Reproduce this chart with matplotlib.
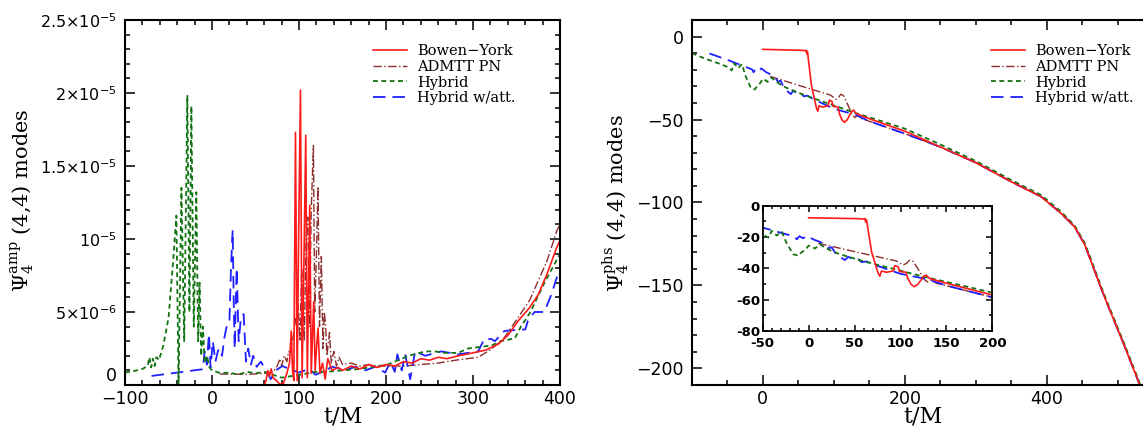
import numpy as np
import matplotlib
matplotlib.use("Agg")
import matplotlib.pyplot as plt
from matplotlib.ticker import MultipleLocator
from matplotlib.lines import Line2D

plt.rcParams["mathtext.fontset"] = "dejavusans"
plt.rcParams["lines.scale_dashes"] = False

# ── amplitude data (units of 1e-6) ───────────────────────────────────────────
by_t = [0, 60, 62, 64, 66, 68, 70, 74, 78, 82, 86, 89, 91, 92.5, 94, 95.9, 97.8,
        99.5, 101.6, 103.5, 105.5, 107.7, 109.5, 111, 112.3, 114, 116.8, 118.5,
        120, 121.8, 124, 127, 130, 133, 138, 145, 150, 160, 170, 180, 190, 200,
        210, 220, 230, 240, 250, 260, 270, 283, 300, 315, 329, 340, 352, 365,
        375, 385, 396, 400]
by_amp = [0, 0, 0.3, 1.0, 0.6, 1.1, 0.5, 0.3, 0.05, 0.1, 0.8, 1.5, 3.7, 1.0, 0.3,
          17.3, 0.3, 10.0, 20.2, 0.5, 8.0, 17.1, 0.5, 7.0, 12.3, 0.8, 5.7, 1.0,
          2.5, 3.9, 0.8, 1.5, 0.4, 1.8, 1.0, 1.2, 1.0, 1.3, 1.1, 1.4, 1.2, 1.4,
          1.3, 1.6, 1.5, 1.8, 1.7, 1.9, 1.8, 2.0, 2.2, 2.4, 2.8, 3.4, 4.4, 5.3,
          6.2, 7.6, 9.4, 9.9]

adm_t = [9, 20, 40, 60, 70, 75, 78, 80, 83, 86, 88, 90, 93, 96, 99, 101, 103,
         104.6, 106, 108, 110, 112, 114, 116.5, 118, 120, 121.8, 123.5, 125.6,
         127.5, 129, 130.6, 132, 135, 137, 140, 143, 146, 150, 160, 170, 180,
         190, 200, 220, 240, 260, 280, 305.8, 321, 336, 351.6, 365, 374.6, 385,
         396.5, 400]
adm_amp = [0.75, 0.75, 0.72, 0.8, 0.9, 1.3, 1.8, 1.3, 2.0, 1.6, 2.3, 2.2, 3.2,
           4.5, 5.5, 3.0, 8.0, 6.0, 3.0, 10.0, 11.5, 4.0, 12.0, 16.4, 5.0, 9.0,
           13.6, 4.0, 8.8, 2.5, 5.0, 4.1, 2.0, 3.6, 1.5, 2.3, 1.3, 1.9, 1.4, 1.5,
           1.3, 1.4, 1.3, 1.3, 1.3, 1.4, 1.5, 1.7, 1.9, 2.45, 3.25, 4.6, 5.8,
           7.1, 8.5, 10.6, 11.0]

hyb_t = [-100, -90, -80, -74, -72, -70, -68, -66, -64, -61, -56, -50, -44.7,
         -41, -38.5, -35.2, -32, -28.4, -26, -23.8, -21, -18.1, -16, -14.3,
         -12.5, -10.5, -8.5, -6, -3, 0, 10, 20, 30, 40, 50, 60, 70, 80, 90, 100,
         110, 120, 130, 150, 170, 190, 200, 226, 245, 256, 268, 283, 294, 321,
         332, 348, 355, 366, 382, 396.5, 400]
hyb_amp = [0.85, 0.95, 1.1, 1.3, 1.9, 1.2, 1.8, 1.3, 1.9, 1.7, 2.7, 4.6, 8.5,
           11.6, 0.0, 13.5, 3.0, 19.8, 5.0, 19.1, 4.0, 13.2, 3.0, 7.0, 2.0, 4.0,
           1.5, 2.0, 1.2, 1.0, 0.8, 0.85, 0.7, 0.9, 0.8, 0.9, 0.7, 0.5, 0.6, 0.7,
           0.8, 0.9, 0.9, 1.0, 1.1, 1.3, 1.35, 2.0, 2.3, 2.3, 2.2, 2.2, 2.5, 2.7,
           3.0, 3.2, 4.0, 5.0, 7.0, 8.6, 9.0]

att_t = [-69.5, -10.5, -8.6, -6, -3.6, -1.7, 0.9, 3.9, 6.6, 8.5, 11.5, 14.2,
         16.9, 19.9, 21.8, 23.7, 24.9, 26, 28.3, 30.6, 33.2, 36.3, 39, 41.6,
         44.7, 47.3, 51.2, 56.1, 61.8, 67.5, 73.2, 80.9, 88.5, 100, 111.4, 119,
         130.4, 138, 153.3, 164.7, 176.2, 187.6, 199, 205, 210, 213, 218, 222,
         227.7, 233.4, 245, 263.5, 283, 305.8, 313, 321, 325, 336, 355, 360,
         363, 370.6, 382, 390, 396.5, 400]
att_amp = [0.62, 1.08, 2.3, 1.4, 3.5, 1.2, 3.0, 1.6, 2.3, 2.5, 2.0, 3.25, 4.05,
           4.2, 8.06, 10.6, 5.7, 2.5, 8.0, 3.0, 4.6, 4.85, 1.6, 2.5, 1.4, 2.0,
           1.25, 1.6, 1.0, 0.4, 1.0, 1.3, 1.1, 0.85, 1.1, 0.7, 1.0, 1.25, 1.0,
           1.25, 1.0, 1.25, 0.85, 1.6, 0.9, 2.1, 1.0, 2.1, 0.4, 2.3, 2.0, 2.3,
           2.1, 2.3, 3.15, 3.15, 3.0, 3.7, 3.8, 3.8, 4.4, 5.0, 5.0, 6.2, 7.4, 7.6]

# ── phase data ───────────────────────────────────────────────────────────────
tail_t = [250, 300, 350, 392, 420, 439, 453, 462, 475, 486, 509, 531, 545]
tail_phs = [-66.5, -76, -87.5, -96.5, -106.5, -114.6, -125, -135, -150, -162,
            -186, -210, -224]

by_pt = [0, 55.8, 60, 61.5, 62, 63, 68.5, 75.7, 77.5, 79.3, 84.7, 91.9, 93.8,
         97.4, 99, 106, 107.9, 111.5, 115.1, 118.8, 122.4, 125, 127.9, 131.5,
         135, 150, 200] + tail_t
by_phs = [-7.7, -8.3, -8.6, -8.2, -10.5, -9, -29.4, -43.2, -45, -41.7, -42.5,
          -41.7, -38.3, -39, -42, -42.5, -46.4, -50.2, -51.7, -50.2, -47.4,
          -45.3, -44.3, -46.4, -47, -49.5, -57] + tail_phs

adm_pt = [10.4, 50, 95.6, 102.9, 106.5, 110, 113.8, 117.4, 122.8, 126.4, 130,
          133.7, 139, 150, 200] + tail_t
adm_phs = [-24, -29.3, -35.3, -37.9, -36.8, -34.7, -35.6, -38.8, -44, -47.4,
           -48.8, -47.4, -49.5, -51, -58.5] + tail_phs

hyb_pt = [-100, -80, -60, -50, -43.8, -40.2, -34.8, -29.3, -23.9, -16.7, -11.3,
          -7.7, -4, 0, 3.2, 6.8, 12.3, 19.5, 26.8, 34, 60, 100, 130, 160, 200,
          250, 300, 350, 392, 420, 439, 453, 462, 475, 486, 509, 531, 545]
hyb_phs = [-10, -13.5, -16.5, -18.3, -20.4, -16.1, -19.1, -16.6, -24.1, -31,
           -31.9, -29.8, -28.3, -25.5, -26.2, -27.3, -24.7, -27.3, -29.4, -31,
           -35.5, -41.5, -46, -50, -55.5, -65, -75, -86.5, -95.5, -105.5, -113.8,
           -124, -134, -149, -161, -185, -209, -223]

att_pt = [-75, -50, -15, -13, -10, -6, -2, 5, 12.3, 18, 21.4, 25, 30.4, 34, 39.5,
          43.1, 46.7, 50.3, 54, 57.6, 63, 70, 100, 130, 150, 200] + tail_t
att_phs = [-10.2, -14, -19.8, -21.5, -19.5, -20.8, -19.2, -21.5, -23.1, -25,
           -27.3, -26.5, -31.4, -32.7, -34.7, -32.6, -33.7, -34.7, -34.2, -36,
           -35.6, -37.4, -43.5, -47, -51, -58.5] + tail_phs

labels = ["Bowen\u2212York", "ADMTT PN", "Hybrid", "Hybrid w/att."]

STYLE = {
    "by":  dict(color="#ff1a1a", lw=1.2, linestyle="-"),
    "adm": dict(color="#8b2e2e", lw=1.0, dashes=(6, 1.8, 1, 1.8)),
    "hyb": dict(color="#137313", lw=1.3, dashes=(3.5, 2.5)),
    "att": dict(color="#1f1fff", lw=1.3, dashes=(9, 5)),
}
ORDER = ["by", "adm", "hyb", "att"]

amp = {"by": (by_t, by_amp), "adm": (adm_t, adm_amp),
       "hyb": (hyb_t, hyb_amp), "att": (att_t, att_amp)}
phs = {"by": (by_pt, by_phs), "adm": (adm_pt, adm_phs),
       "hyb": (hyb_pt, hyb_phs), "att": (att_pt, att_phs)}

fig = plt.figure(figsize=(11.43, 4.28), dpi=100)
axL = fig.add_axes([0.1094, 0.1005, 0.3806, 0.8528])
axR = fig.add_axes([0.6052, 0.1005, 0.4038, 0.8528])
axI = fig.add_axes([0.6673, 0.2266, 0.2009, 0.2928])

draw_order = ["adm", "att", "hyb", "by"]
for k in draw_order:
    t, a = amp[k]
    axL.plot(t, np.array(a) * 1e-6, **STYLE[k])
    t, p = phs[k]
    axR.plot(t, p, **STYLE[k])
    axI.plot(t, p, **STYLE[k])

def style_ticks(ax, major, minor, lw=1.5, size=12.5):
    for s in ax.spines.values():
        s.set_linewidth(lw)
    ax.tick_params(which="both", direction="in", top=True, right=True,
                   width=1.1, labelsize=size)
    ax.tick_params(which="major", length=major)
    ax.tick_params(which="minor", length=minor)

# ── left: amplitude ──
axL.set_xlim(-100, 400)
axL.set_ylim(0, 2.5e-5)
axL.set_xticks([-100, 0, 100, 200, 300, 400])
axL.xaxis.set_minor_locator(MultipleLocator(20))
axL.set_yticks([0, 5e-6, 1e-5, 1.5e-5, 2e-5, 2.5e-5],
               labels=["0", r"$5{\times}10^{-6}$", r"$10^{-5}$",
                       r"$1.5{\times}10^{-5}$", r"$2{\times}10^{-5}$",
                       r"$2.5{\times}10^{-5}$"])
axL.yaxis.set_minor_locator(MultipleLocator(1e-6))
style_ticks(axL, 7, 3.5)
axL.tick_params(axis="y", pad=6, labelsize=11.5)
axL.get_yticklabels()[0].set_verticalalignment("bottom")
axL.get_yticklabels()[0].set_fontsize(12.5)
axL.set_xlabel("t/M", family="DejaVu Serif", fontsize=16, labelpad=-1.5)

# ── right: phase ──
axR.set_xlim(-100, 550)
axR.set_ylim(-210, 10)
axR.set_xticks([0, 200, 400])
axR.xaxis.set_minor_locator(MultipleLocator(50))
axR.set_yticks([0, -50, -100, -150, -200])
axR.yaxis.set_minor_locator(MultipleLocator(10))
style_ticks(axR, 7, 3.5)
axR.tick_params(axis="y", pad=6)
axR.set_xlabel("t/M", family="DejaVu Serif", fontsize=16, labelpad=-1.5)

# ── inset ──
axI.set_xlim(-50, 200)
axI.set_ylim(-80, 0)
axI.set_xticks([-50, 0, 50, 100, 150, 200],
               labels=["-50", "0", "50", "100", "150", "200"])
axI.set_yticks([0, -20, -40, -60, -80],
               labels=["0", "-20", "-40", "-60", "-80"])
axI.xaxis.set_minor_locator(MultipleLocator(10))
axI.yaxis.set_minor_locator(MultipleLocator(10))
style_ticks(axI, 4, 2, lw=1.3, size=9.5)
axI.tick_params(axis="x", pad=4)
axI.tick_params(axis="y", pad=2)
for lab in axI.get_xticklabels() + axI.get_yticklabels():
    lab.set_fontweight("bold")

# ── y labels ──
fig.text(0.020, 0.533, r"$\Psi_4^{\rm amp}$ (4,4) modes", rotation=90,
         ha="center", va="center", family="DejaVu Serif", fontsize=15,
         math_fontfamily="dejavuserif")
fig.text(0.539, 0.526, r"$\Psi_4^{\rm phs}$ (4,4) modes", rotation=90,
         ha="center", va="center", family="DejaVu Serif", fontsize=15,
         math_fontfamily="dejavuserif")

# ── legends ──
handles = [Line2D([], [], **STYLE[k]) for k in ORDER]
for ax, x0 in ((axL, 0.326), (axR, 0.867)):
    ax.legend(handles, labels, loc="upper left", bbox_to_anchor=(x0, 0.897),
              bbox_transform=fig.transFigure, frameon=False,
              prop={"family": "DejaVu Serif", "size": 10.5},
              handlelength=2.35, handletextpad=0.7, labelspacing=0.12,
              borderpad=0, borderaxespad=0)

fig.savefig("out.png", dpi=100)
